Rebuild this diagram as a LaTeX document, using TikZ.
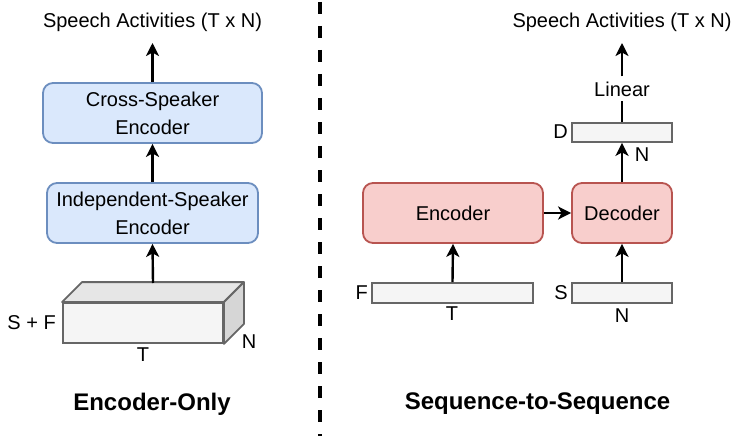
\documentclass[tikz,border=0pt]{standalone}
\usepackage{fontspec}
\setmainfont{Liberation Sans}
\usetikzlibrary{arrows.meta}
\definecolor{bluefill}{HTML}{DAE8FC}
\definecolor{bluedraw}{HTML}{6C8EBF}
\definecolor{redfill}{HTML}{F8CECC}
\definecolor{reddraw}{HTML}{B85450}
\definecolor{barfill}{HTML}{F5F5F5}
\definecolor{bardraw}{HTML}{666666}
\definecolor{topfill}{HTML}{E6E6E6}
\definecolor{sidefill}{HTML}{D6D6D6}
\tikzset{
  lbl/.style={font=\fontsize{20}{24}\selectfont, inner sep=0pt},
  bluebox/.style={draw=bluedraw, fill=bluefill, line width=1.8pt, rounded corners=10pt, align=center, font=\fontsize{20}{28}\selectfont, inner sep=0pt},
  redbox/.style={draw=reddraw, fill=redfill, line width=1.8pt, rounded corners=10pt, align=center, font=\fontsize{20}{28}\selectfont, inner sep=0pt},
  bar/.style={draw=bardraw, fill=barfill, line width=1.8pt, inner sep=0pt},
  arr/.style={-{Stealth[length=13pt,width=13pt,inset=3.5pt]}, line width=2.4pt},
  plain/.style={line width=2.4pt},
  heading/.style={font=\bfseries\fontsize{24}{28}\selectfont, inner sep=0pt}
}
\begin{document}
\begin{tikzpicture}[x=1pt,y=-1pt]
\useasboundingbox (0,0) rectangle (747,436);
% left part
\node[lbl] (t1) at (152.5,22) {Speech Activities (T x N)};
\node[bluebox, minimum width=219pt, minimum height=60pt] (cross) at (152.5,113) {Cross-Speaker\\Encoder};
\node[bluebox, minimum width=211pt, minimum height=60pt] (indep) at (152.5,213) {Independent-Speaker\\Encoder};
\node[bar, minimum width=160pt, minimum height=40pt] (cube) at (143,323) {};
\fill[topfill, draw=bardraw, line width=1.8pt, line join=round] (cube.north west) -- ++(20,-20) -- ([shift={(20,-20)}]cube.north east) -- (cube.north east) -- cycle;
\fill[sidefill, draw=bardraw, line width=1.8pt, line join=round] (cube.north east) -- ++(20,-20) -- ([shift={(20,-20)}]cube.south east) -- (cube.south east) -- cycle;
\coordinate (cubetop) at (153,283);
\coordinate (t1arr) at (152.5,43);
\node[lbl, anchor=east] (sf) at (56,323) {S + F};
\node[lbl] (ct) at (143,355) {T};
\node[lbl] (cn) at (249,342) {N};
\node[heading] (h1) at (152,404) {Encoder-Only};
\draw[arr] (cross.north) -- (t1arr);
\draw[arr] (indep.north) -- (cross.south);
\draw[arr] (cubetop) -- (indep.south);
% divider
\coordinate (dtop) at (320,2);
\coordinate (dbot) at (320,436);
\draw[line width=4pt, dash pattern=on 12pt off 12pt] (dtop) -- (dbot);
% right part
\node[lbl] (t2) at (622,22) {Speech Activities (T x N)};
\coordinate (t2arr) at (622,43);
\node[redbox, minimum width=180pt, minimum height=60pt] (enc) at (453,213) {Encoder};
\node[redbox, minimum width=100pt, minimum height=60pt] (dec) at (622,213) {Decoder};
\node[bar, minimum width=161pt, minimum height=20pt] (fbar) at (452.5,293) {};
\node[bar, minimum width=100pt, minimum height=20pt] (sbar) at (622,293) {};
\node[bar, minimum width=100pt, minimum height=19pt] (dbar) at (622,132.5) {};
\node[lbl, anchor=east] (fl) at (368,293) {F};
\node[lbl] (tl) at (452,314) {T};
\node[lbl, anchor=east] (sl) at (568,293) {S};
\node[lbl] (nl) at (622,316) {N};
\node[lbl, anchor=east] (dl) at (568,132) {D};
\node[lbl] (nl2) at (642,155) {N};
\node[lbl] (lin) at (622,89) {Linear};
\node[heading] (h2) at (537.5,404) {Sequence-to-Sequence};
\draw[arr] (fbar.north) -- (enc.south);
\draw[arr] (sbar.north) -- (dec.south);
\draw[arr] (enc.east) -- (dec.west);
\draw[arr] (dec.north) -- (dbar.south);
\draw[plain] (dbar.north) -- ([yshift=-4pt]lin.south);
\draw[arr] ([yshift=5pt]lin.north) -- (t2arr);
\end{tikzpicture}
\end{document}
